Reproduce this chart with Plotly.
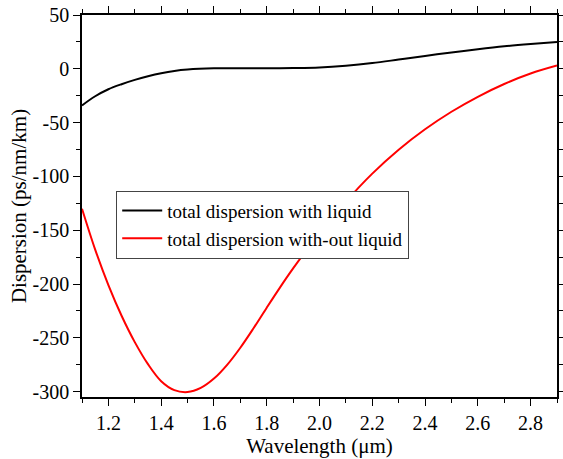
import plotly.graph_objects as go

wl_black = [1.1, 1.15, 1.2, 1.25, 1.3, 1.35, 1.4, 1.45, 1.5, 1.6, 1.7, 1.8, 1.9, 2.0,
            2.1, 2.2, 2.3, 2.4, 2.5, 2.6, 2.7, 2.8, 2.9]
d_black = [-34, -25.5, -19, -14.3, -10.3, -6.9, -4.1, -2.0, -0.7, 0.4, 0.6, 0.6, 0.7, 1.2,
           2.8, 5.3, 8.6, 12.0, 15.2, 18.2, 20.9, 23.1, 25]

wl_red = [1.1, 1.15, 1.2, 1.25, 1.3, 1.35, 1.4, 1.45, 1.5, 1.55, 1.6, 1.65, 1.7, 1.75,
          1.8, 1.85, 1.9, 1.95, 2.0, 2.1, 2.2, 2.3, 2.4, 2.5, 2.6, 2.7, 2.8, 2.9]
d_red = [-130, -168, -201, -229.5, -254, -274.5, -290.3, -298.6, -300.4, -296.6, -287.9,
         -275.1, -259.2, -241.1, -222, -203.3, -185.5, -168.8, -152.9, -123.4, -97.4,
         -75.2, -56.2, -39.9, -26, -14.1, -4.4, 3]

x_ticks = [1.2, 1.4, 1.6, 1.8, 2.0, 2.2, 2.4, 2.6, 2.8]
x_labels = ["1.2", "1.4", "1.6", "1.8", "2.0", "2.2", "2.4", "2.6", "2.8"]
y_ticks = [50, 0, -50, -100, -150, -200, -250, -300]
y_labels = ["50", "0", "-50", "-100", "-150", "-200", "-250", "-300"]

font = "Liberation Serif"

fig = go.Figure()
fig.add_trace(go.Scatter(x=wl_black, y=d_black, mode="lines",
                         line=dict(color="black", width=2, shape="spline"),
                         name="total dispersion with liquid"))
fig.add_trace(go.Scatter(x=wl_red, y=d_red, mode="lines",
                         line=dict(color="#ff0000", width=2, shape="spline"),
                         name="total dispersion with-out liquid"))

axis_common = dict(showgrid=False, zeroline=False, showline=True, linecolor="black",
                   linewidth=1.5, mirror="ticks", ticks="outside", ticklen=7,
                   tickwidth=1.2, tickcolor="black", automargin=False,
                   tickfont=dict(family=font, size=20, color="black"))

fig.update_xaxes(range=[1.1, 2.9], tickmode="array", tickvals=x_ticks, ticktext=x_labels,
                 minor=dict(ticks="outside", ticklen=4, dtick=0.1, tick0=1.1, tickcolor="black"),
                 title=dict(text="Wavelength (μm)", font=dict(family=font, size=21, color="black"),
                            standoff=2),
                 **axis_common)
fig.update_yaxes(range=[-305, 50], tickmode="array", tickvals=y_ticks, ticktext=y_labels,
                 minor=dict(ticks="outside", ticklen=4, dtick=25, tick0=0, tickcolor="black"),
                 title=dict(text="Dispersion (ps/nm/km)", font=dict(family=font, size=21, color="black"),
                            standoff=0),
                 **axis_common)

fig.update_layout(width=563, height=459, margin=dict(l=82, r=6, t=15, b=62),
                  plot_bgcolor="white", paper_bgcolor="white",
                  font=dict(family=font, color="black"),
                  legend=dict(x=0.072, y=0.54, xanchor="left", yanchor="top",
                              bgcolor="white", bordercolor="#444", borderwidth=1,
                              font=dict(family=font, size=19, color="black"),
                              tracegroupgap=0, itemwidth=40))

fig.write_html("out.html")
